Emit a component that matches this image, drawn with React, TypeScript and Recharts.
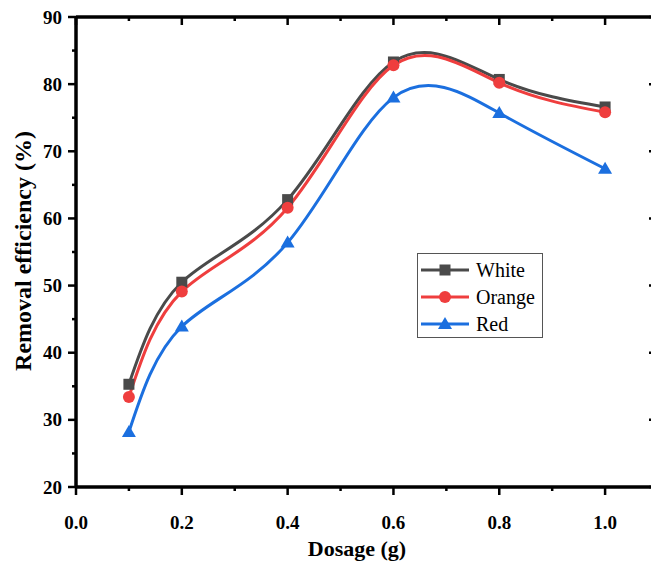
import React from 'react';
import { LineChart, Line, XAxis, YAxis, Legend } from 'recharts';

const dosage = [0.1, 0.2, 0.4, 0.6, 0.8, 1.0];
const whiteVals = [35.3, 50.5, 62.8, 83.3, 80.7, 76.6];
const orangeVals = [33.4, 49.1, 61.6, 82.8, 80.2, 75.8];
const redVals = [28.2, 43.9, 56.4, 78.0, 75.7, 67.4];

const xTicks = [0, 0.1, 0.2, 0.3, 0.4, 0.5, 0.6, 0.7, 0.8, 0.9, 1.0];
const yTicks = [20, 25, 30, 35, 40, 45, 50, 55, 60, 65, 70, 75, 80, 85, 90];

const data = dosage.map((d, i) => ({
  dosage: d,
  White: whiteVals[i],
  Orange: orangeVals[i],
  Red: redVals[i],
}));

const FONT = 'Liberation Serif';
const C_WHITE = '#4a4a4a';
const C_ORANGE = '#ef3e3e';
const C_RED = '#1b6fdf';

const isMajorX = (v: number) => Math.round(v * 10) % 2 === 0;
const isMajorY = (v: number) => v % 10 === 0;

const BottomTick = (props: any) => {
  const { x, y, payload } = props;
  const major = isMajorX(payload.value);
  return (
    <g>
      <line x1={x} x2={x} y1={y} y2={y + (major ? 8 : 4)} stroke="#000" strokeWidth={2.5} />
      {major && (
        <text x={x} y={y + 42} textAnchor="middle" style={{ fontFamily: FONT, fontWeight: 'bold', fontSize: 19 }} fill="#000">
          {payload.value.toFixed(1)}
        </text>
      )}
    </g>
  );
};

const TopTick = (props: any) => {
  const { x, y, payload } = props;
  const major = isMajorX(payload.value);
  return <line x1={x} x2={x} y1={y} y2={y + (major ? 8 : 4)} stroke="#000" strokeWidth={2.5} />;
};

const LeftTick = (props: any) => {
  const { x, y, payload } = props;
  const major = isMajorY(payload.value);
  return (
    <g>
      <line x1={x} x2={x - (major ? 8 : 4)} y1={y} y2={y} stroke="#000" strokeWidth={2.5} />
      {major && (
        <text x={x - 14} y={y + 6.5} textAnchor="end" style={{ fontFamily: FONT, fontWeight: 'bold', fontSize: 19 }} fill="#000">
          {payload.value}
        </text>
      )}
    </g>
  );
};

const RightTick = (props: any) => {
  const { x, y, payload } = props;
  const major = isMajorY(payload.value);
  return <line x1={x} x2={x - (major ? 9 : 4)} y1={y} y2={y} stroke="#000" strokeWidth={2.5} />;
};

const marker = (kind: string, color: string, cx: number, cy: number, key?: any) => {
  if (kind === 'square') {
    return <rect key={key} x={cx - 5.5} y={cy - 5.5} width={11} height={11} fill={color} />;
  }
  if (kind === 'circle') {
    return <circle key={key} cx={cx} cy={cy} r={6} fill={color} />;
  }
  return (
    <path key={key} d={`M${cx},${cy - 7} L${cx + 7},${cy + 5} L${cx - 7},${cy + 5} Z`} fill={color} />
  );
};

const series = [
  { key: 'White', color: C_WHITE, kind: 'square' },
  { key: 'Orange', color: C_ORANGE, kind: 'circle' },
  { key: 'Red', color: C_RED, kind: 'triangle' },
];

const LegendBox = () => (
  <svg width={127} height={86} style={{ display: 'block' }}>
    <rect x={0.5} y={0.5} width={125} height={84} fill="#fff" stroke="#555" strokeWidth={1} />
    {series.map((s, i) => {
      const cy = 17 + i * 27;
      return (
        <g key={s.key}>
          <line x1={4} x2={52} y1={cy} y2={cy} stroke={s.color} strokeWidth={3} />
          {marker(s.kind, s.color, 28, cy)}
          <text x={59} y={cy + 6.5} style={{ fontFamily: FONT, fontSize: 20 }} fill="#000">
            {s.key}
          </text>
        </g>
      );
    })}
  </svg>
);

export default function App() {
  return (
    <div
      style={{
        position: 'fixed',
        left: 0,
        top: 0,
        width: 651,
        height: 562,
        overflow: 'hidden',
        background: '#fff',
      }}
    >
      <LineChart width={700} height={562} data={data} margin={{ top: 0, right: 0, left: 0, bottom: 0 }}>
        <XAxis
          dataKey="dosage"
          type="number"
          domain={[0, 1.1]}
          ticks={xTicks}
          interval={0}
          height={75}
          tickSize={0}
          tickMargin={0}
          tick={<BottomTick />}
          axisLine={{ stroke: '#000', strokeWidth: 3.5 }}
          allowDataOverflow
        />
        <XAxis
          xAxisId="top"
          orientation="top"
          dataKey="dosage"
          type="number"
          domain={[0, 1.1]}
          ticks={xTicks}
          interval={0}
          height={17}
          tickSize={0}
          tickMargin={0}
          tick={<TopTick />}
          axisLine={{ stroke: '#000', strokeWidth: 3.5 }}
          allowDataOverflow
        />
        <YAxis
          type="number"
          domain={[20, 90]}
          ticks={yTicks}
          interval={0}
          width={76}
          tickSize={0}
          tickMargin={0}
          tick={<LeftTick />}
          axisLine={{ stroke: '#000', strokeWidth: 3.5 }}
          allowDataOverflow
        />
        <YAxis
          yAxisId="right"
          orientation="right"
          type="number"
          domain={[20, 90]}
          ticks={yTicks}
          interval={0}
          width={42}
          tickSize={0}
          tickMargin={0}
          tick={<RightTick />}
          axisLine={{ stroke: '#000', strokeWidth: 3.5 }}
          allowDataOverflow
        />
        <text
          x={31}
          y={251}
          transform="rotate(-90 31 251)"
          textAnchor="middle"
          style={{ fontFamily: FONT, fontWeight: 'bold', fontSize: 24 }}
          fill="#000"
        >
          Removal efficiency (%)
        </text>
        <text x={357} y={556} textAnchor="middle" style={{ fontFamily: FONT, fontWeight: 'bold', fontSize: 22 }} fill="#000">
          Dosage (g)
        </text>
        <Legend
          layout="horizontal"
          verticalAlign="middle"
          content={() => <LegendBox />}
          wrapperStyle={{ left: 417, top: 253, width: 127, height: 86 }}
        />
        {series.map((s) => (
          <Line
            key={s.key}
            type="natural"
            dataKey={s.key}
            stroke={s.color}
            strokeWidth={3}
            isAnimationActive={false}
            dot={(p: any) => marker(s.kind, s.color, p.cx, p.cy, `${s.key}-${p.index}`)}
            activeDot={false}
          />
        ))}
      </LineChart>
    </div>
  );
}
